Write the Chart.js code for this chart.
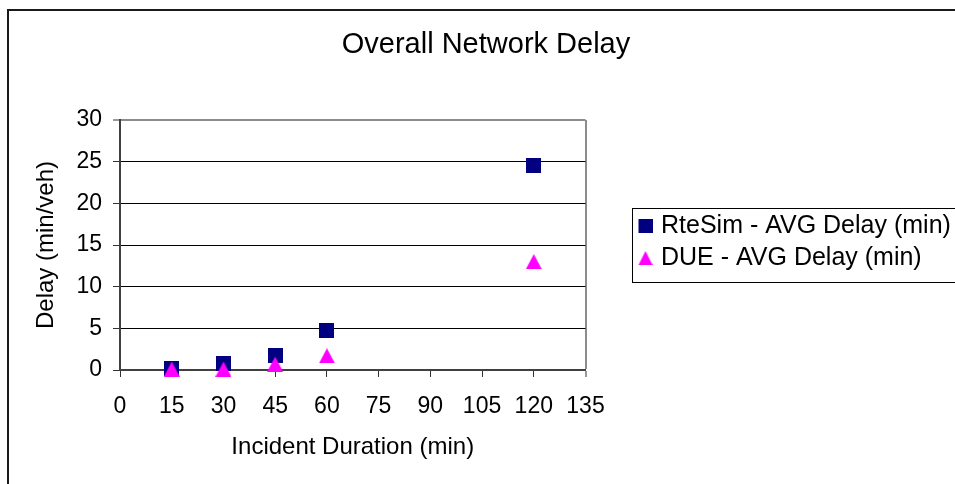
<!DOCTYPE html>
<html>
<head>
<meta charset="utf-8">
<script src="https://cdn.jsdelivr.net/npm/chart.js@4.4.1/dist/chart.umd.min.js"></script>
<style>
    html, body { margin: 0; padding: 0; background: #fff; overflow: hidden; }
    #frame { position: absolute; left: 7px; top: 9px; width: 990px; height: 500px; border: 2px solid #1a1a1a; }
    #chart { position: absolute; left: 0; top: 0; }
</style>
</head>
<body>
<div id="frame"></div>
<canvas id="chart" width="955" height="484"></canvas>
<script>
const durations = [15, 30, 45, 60, 120];
const rteSimDelay = [0.2, 0.8, 1.7, 4.8, 24.6];
const dueDelay = [0.1, 0.1, 0.7, 1.7, 13.0];
const seriesNames = ['RteSim - AVG Delay (min)', 'DUE - AVG Delay (min)'];
const seriesColors = ['#000080', '#FF00FF'];
const xRange = [0, 135, 15];
const yRange = [0, 30, 5];

const fontFamily = "Arial, 'Liberation Sans', sans-serif";
const legendFontSize = 25;
Chart.defaults.font.family = fontFamily;
Chart.defaults.color = '#000000';

// marker images, offsetX moves the shape right of the image centre (legend)
function marker(shape, color, w, h, offsetX) {
    const off = offsetX || 0;
    const c = document.createElement('canvas');
    c.width = w + 2 * off;
    c.height = h;
    const g = c.getContext('2d');
    const left = 2 * off;
    g.fillStyle = color;
    if (shape == 'square') {
        g.fillRect(left, 0, w, h);
    } else {
        g.beginPath();
        g.moveTo(left + w / 2, 0);
        g.lineTo(left + w, h);
        g.lineTo(left, h);
        g.closePath();
        g.fill();
    }
    return c;
}
const pointIcons = [marker('square', seriesColors[0], 15, 15), marker('triangle', seriesColors[1], 16, 15)];
const legendIcons = [marker('square', seriesColors[0], 14, 14, 25), marker('triangle', seriesColors[1], 14, 14, 25)];

// legend width = padding + pointStyleWidth + font/2 + text + 10, fixed through maxWidth;
// the side paddings then put the plot's right edge at 585.5 and the title centre at 486
const probe = document.createElement('canvas').getContext('2d');
probe.font = legendFontSize + 'px ' + fontFamily;
const legendTextWidth = Math.max(...seriesNames.map(n => probe.measureText(n).width));
const legendWidth = Math.floor(7 + 56 + legendFontSize / 2 + legendTextWidth + 10) - 1;
const padRight = 955 - 585.5 - legendWidth;
const padLeft = 17 + padRight;

const legendFrame = {
    id: 'legendFrame',
    afterDraw(chart) {
        const boxes = chart.legend.legendHitBoxes;
        if (!boxes || boxes.length == 0) return;
        const first = boxes[0];
        const last = boxes[boxes.length - 1];
        const top = first.top - 6;
        const bottom = last.top + last.height + 11;
        const ctx = chart.ctx;
        ctx.save();
        ctx.strokeStyle = '#000000';
        ctx.lineWidth = 1;
        ctx.strokeRect(chart.legend.left + 47, Math.round(top) + 0.5, 400, Math.round(bottom - top));
        ctx.restore();
    }
};

const datasetFor = (i, values, order) => ({
    label: seriesNames[i],
    data: durations.map((x, j) => ({x: x, y: values[j]})),
    pointStyle: pointIcons[i],
    pointRadius: 8,
    backgroundColor: seriesColors[i],
    borderColor: seriesColors[i],
    showLine: false,
    clip: false,
    order: order
});

new Chart(document.getElementById('chart'), {
    type: 'scatter',
    data: {
        datasets: [datasetFor(0, rteSimDelay, 1), datasetFor(1, dueDelay, 0)]
    },
    options: {
        responsive: false,
        animation: false,
        events: [],
        layout: {padding: {left: padLeft, right: padRight, top: 0, bottom: 0}},
        scales: {
            x: {
                type: 'linear',
                min: xRange[0],
                max: xRange[1],
                afterFit: (scale) => { scale.height = 114; },
                ticks: {stepSize: xRange[2], padding: 16, font: {size: 23}, color: '#000'},
                grid: {
                    color: (c) => c.tick && c.tick.value == xRange[1] ? '#8c8c8c' : 'rgba(0,0,0,0)',
                    lineWidth: (c) => c.tick && c.tick.value == xRange[1] ? 2 : 1,
                    tickColor: '#333333',
                    tickWidth: 1,
                    tickLength: 7
                },
                border: {color: '#404040', width: 2},
                title: {display: true, text: 'Incident Duration (min)', font: {size: 24}, padding: {top: 0, bottom: 22.6}, color: '#000'}
            },
            y: {
                min: yRange[0],
                max: yRange[1],
                afterFit: (scale) => { scale.width = 120 - padLeft; },
                ticks: {stepSize: yRange[2], padding: 11, font: {size: 23}, color: '#000'},
                grid: {
                    color: (c) => c.tick && c.tick.value == yRange[1] ? '#8c8c8c' : '#000000',
                    lineWidth: (c) => c.tick && c.tick.value == yRange[1] ? 2 : 1,
                    tickColor: '#333333',
                    tickWidth: 1,
                    tickLength: 7
                },
                border: {color: '#404040', width: 2},
                title: {display: true, text: 'Delay (min/veh)', font: {size: 24}, padding: {top: 46.7 - padLeft - 14.4, bottom: 0}, color: '#000'}
            }
        },
        plugins: {
            title: {
                display: true,
                text: 'Overall Network Delay',
                font: {size: 29, weight: 'normal'},
                color: '#000',
                padding: {top: 27.6, bottom: 57.6}
            },
            legend: {
                position: 'right',
                fullSize: true,
                maxWidth: legendWidth,
                labels: {
                    usePointStyle: true,
                    pointStyleWidth: 56,
                    padding: 7,
                    font: {size: legendFontSize},
                    color: '#000',
                    sort: (a, b) => a.datasetIndex - b.datasetIndex,
                    generateLabels: (chart) => Chart.defaults.plugins.legend.labels.generateLabels(chart).map((item) => {
                        item.pointStyle = legendIcons[item.datasetIndex];
                        return item;
                    })
                }
            },
            tooltip: {enabled: false}
        }
    },
    plugins: [legendFrame]
});
</script>
</body>
</html>
